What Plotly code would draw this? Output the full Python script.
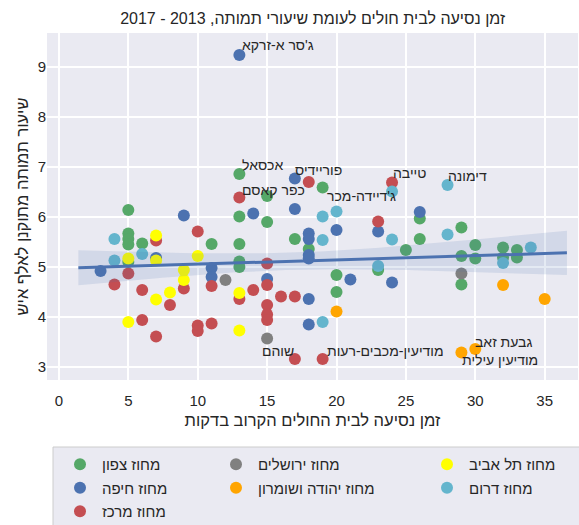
import numpy as np
import plotly.graph_objects as go

# ---- data ----
north_x = [5, 5, 5, 5, 5, 6, 11, 13, 13, 13, 13, 13, 15, 15, 17, 18, 19, 20, 20, 23, 25, 26, 26, 29, 29, 29, 30, 30, 32, 32, 33, 33]
north_y = [6.14, 5.67, 5.56, 5.45, 5.10, 5.47, 5.46, 6.86, 6.01, 5.46, 5.11, 5.00, 6.42, 5.90, 5.56, 5.36, 6.59, 4.84, 4.50, 4.94, 5.34, 5.97, 5.56, 5.79, 5.22, 4.65, 5.44, 5.17, 5.39, 5.19, 5.34, 5.19]

haifa_x = [3, 7, 9, 11, 11, 13, 14, 15, 17, 17, 18, 18, 18, 18, 18, 18, 20, 21, 23, 24, 26]
haifa_y = [4.92, 5.18, 6.03, 4.98, 4.80, 9.24, 6.07, 4.76, 6.77, 6.16, 5.67, 5.56, 5.24, 5.17, 4.36, 3.85, 5.74, 4.75, 5.71, 4.69, 6.10]

center_x = [4, 5, 6, 6, 7, 7, 8, 9, 10, 10, 10, 11, 11, 13, 13, 14, 15, 15, 15, 15, 15, 16, 17, 17, 18, 19, 23, 24]
center_y = [4.65, 4.87, 4.54, 3.94, 5.53, 3.61, 4.24, 4.57, 5.71, 3.83, 3.72, 4.62, 3.87, 6.39, 4.36, 4.54, 5.07, 4.64, 4.24, 4.05, 3.94, 4.41, 4.41, 3.16, 6.70, 3.16, 5.91, 6.69]

jerusalem_x = [12, 15, 29]
jerusalem_y = [4.74, 3.57, 4.87]

judea_x = [20, 29, 30, 32, 35]
judea_y = [4.11, 3.29, 3.36, 4.64, 4.36]

telaviv_x = [5, 5, 7, 7, 7, 8, 9, 9, 10, 13, 13]
telaviv_y = [5.17, 3.90, 5.63, 5.13, 4.35, 4.49, 4.94, 4.74, 5.22, 4.48, 3.73]

south_x = [4, 4, 6, 19, 19, 19, 20, 23, 24, 24, 28, 28, 32, 34]
south_y = [5.56, 5.13, 5.26, 6.01, 5.54, 3.90, 6.11, 5.02, 6.51, 5.55, 6.64, 5.65, 5.08, 5.39]

districts = ["מחוז צפון", "מחוז חיפה", "מחוז מרכז",
             "מחוז ירושלים", "מחוז יהודה ושומרון",
             "מחוז תל אביב", "מחוז דרום"]
series_x = [north_x, haifa_x, center_x, jerusalem_x, judea_x, telaviv_x, south_x]
series_y = [north_y, haifa_y, center_y, jerusalem_y, judea_y, telaviv_y, south_y]
colors = ["#55a868", "#4c72b0", "#c44e52", "#808080", "#ffa500", "#ffff00", "#64b5cd"]
legend_column = ["legend", "legend", "legend", "legend2", "legend2", "legend3", "legend3"]

label_names = ["ג'סר א-זרקא", "אכסאל", "פוריידיס", "כפר קאסם", "ג'דיידה-מכר",
               "טייבה", "דימונה", "שוהם", "מודיעין-מכבים-רעות", "גבעת זאב", "מודיעין עילית"]
label_x = [13.05, 13.05, 16.9, 13.05, 19.2, 23.9, 27.9, 14.5, 19.2, 29.85, 28.9]
label_y = [9.44, 7.04, 6.94, 6.54, 6.42, 6.88, 6.83, 3.33, 3.33, 3.50, 3.14]

title = "\u202bזמן נסיעה לבית חולים לעומת שיעורי תמותה, 2013 - 2017\u202c"
x_title = "זמן נסיעה לבית החולים הקרוב בדקות"
y_title = "שיעור תמותה מתוקנן לאלף איש"
x_ticks = [0, 5, 10, 15, 20, 25, 30, 35]
y_ticks = [3, 4, 5, 6, 7, 8, 9]

# ---- regression (like seaborn regplot) ----
all_x = np.array(sum(series_x, []), dtype=float)
all_y = np.array(sum(series_y, []), dtype=float)
n = len(all_x)
b1, b0 = np.polyfit(all_x, all_y, 1)
pad = 0.05 * (all_x.max() - all_x.min())
gx = np.linspace(all_x.min() - pad, all_x.max() + pad, 100)
gy = b0 + b1 * gx
resid = all_y - (b0 + b1 * all_x)
s = np.sqrt((resid ** 2).sum() / (n - 2))
sxx = ((all_x - all_x.mean()) ** 2).sum()
se = s * np.sqrt(1.0 / n + (gx - all_x.mean()) ** 2 / sxx)
lo = gy - 1.98 * se
hi = gy + 1.98 * se

FONT = "Liberation Sans, Arial, DejaVu Sans, sans-serif"
TXT = "#262626"
fig = go.Figure()

for name, xs, ys, c, lg in zip(districts, series_x, series_y, colors, legend_column):
    fig.add_trace(go.Scatter(x=xs, y=ys, mode="markers", name=name, legend=lg,
                             legendgroup=name,
                             marker=dict(color=c, size=12, line=dict(width=0))))

fig.add_trace(go.Scatter(x=np.concatenate([gx, gx[::-1]]), y=np.concatenate([hi, lo[::-1]]),
                         fill="toself", fillcolor="rgba(76,114,176,0.15)",
                         line=dict(width=0), hoverinfo="skip", showlegend=False))
fig.add_trace(go.Scatter(x=gx, y=gy, mode="lines", line=dict(color="#4c72b0", width=3),
                         showlegend=False))

for t, lx, ly in zip(label_names, label_x, label_y):
    fig.add_annotation(x=lx, y=ly, text=t, showarrow=False, xanchor="left", yanchor="middle",
                       font=dict(family=FONT, size=14, color=TXT))

# legend frame (one box around the three legend columns)
W, H, L, R, T, B = 579, 525, 47, 1, 33, 145
pw, ph = W - L - R, H - T - B
def px_x(p):
    return (p - L) / pw
def px_y(p):
    return (H - B - p) / ph

fig.add_shape(type="rect", xref="paper", yref="paper",
              x0=px_x(53), x1=px_x(590), y0=px_y(447), y1=px_y(535),
              fillcolor="#eaeaf2", line=dict(color="#cccccc", width=1), layer="below")

leg_common = dict(orientation="v", yanchor="top", xanchor="left", bgcolor="rgba(0,0,0,0)",
                  borderwidth=0, font=dict(size=15, color=TXT), tracegroupgap=1,
                  itemsizing="constant", itemwidth=34)

fig.update_layout(
    width=W, height=H,
    margin=dict(l=L, r=R, t=T, b=B, autoexpand=False),
    paper_bgcolor="white", plot_bgcolor="#eaeaf2",
    font=dict(family=FONT, size=14, color=TXT),
    title=dict(text=title, x=0.54, xanchor="center", y=1 - 18 / H, yanchor="middle",
               font=dict(size=16, color=TXT)),
    xaxis=dict(range=[-0.86, 37.4], tickvals=x_ticks, showgrid=True, gridcolor="white",
               gridwidth=1.5, zeroline=False, showline=False, ticks="", automargin=False,
               ticklabelstandoff=10,
               tickfont=dict(size=15, color=TXT),
               title=dict(text=x_title, font=dict(size=16.5), standoff=6)),
    yaxis=dict(range=[2.74, 9.68], tickvals=y_ticks, showgrid=True, gridcolor="white",
               gridwidth=1.5, zeroline=False, showline=False, ticks="", automargin=False,
               tickfont=dict(size=15, color=TXT),
               title=dict(text=y_title, font=dict(size=16.5), standoff=4)),
    legend=dict(x=px_x(58), y=px_y(448), **leg_common),
    legend2=dict(x=px_x(214), y=px_y(448), **leg_common),
    legend3=dict(x=px_x(425), y=px_y(448), **leg_common),
)

fig.write_html("out.html")
